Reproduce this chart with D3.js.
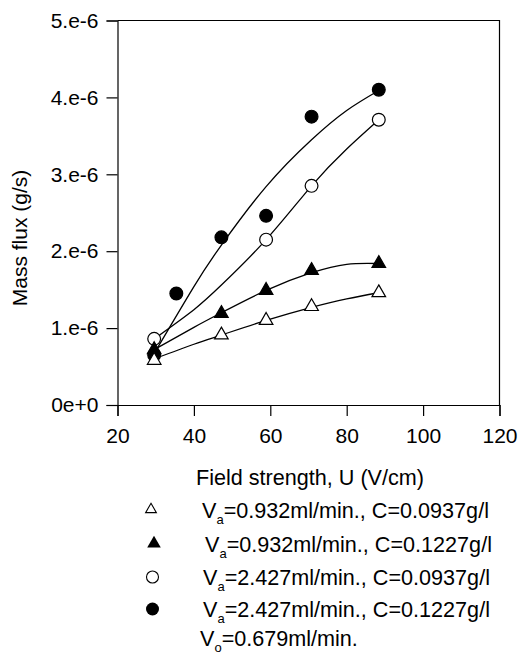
<!DOCTYPE html>
<html><head><meta charset="utf-8">
<script src="https://cdn.jsdelivr.net/npm/d3@7"></script>
<style>
html,body{margin:0;padding:0;background:#fff;}
svg{display:block;font-family:"Liberation Sans",Arial,sans-serif;}
</style></head>
<body>
<svg id="c" width="520" height="656"></svg>
<script>
// ---- data ----
const xTickValues = [20, 40, 60, 80, 100, 120];
const yTickValues = [0, 1e-6, 2e-6, 3e-6, 4e-6, 5e-6];
const yTickLabels = ["0e+0", "1.e-6", "2.e-6", "3.e-6", "4.e-6", "5.e-6"];

// measured points (x in V/cm, y in g/s)
const openTriX = [29.6, 47.2, 58.9, 70.8, 88.4];
const openTriY = [0.58e-6, 0.91e-6, 1.10e-6, 1.28e-6, 1.46e-6];
const fillTriX = [29.6, 47.2, 58.9, 70.8, 88.4];
const fillTriY = [0.72e-6, 1.19e-6, 1.49e-6, 1.75e-6, 1.84e-6];
const openCirX = [29.6, 58.9, 70.8, 88.4];
const openCirY = [0.86e-6, 2.15e-6, 2.85e-6, 3.71e-6];
const fillCirX = [29.6, 35.4, 47.2, 58.9, 70.8, 88.4];
const fillCirY = [0.65e-6, 1.45e-6, 2.18e-6, 2.46e-6, 3.75e-6, 4.10e-6];

// fitted curves
const fitX = [29.6, 40, 47.2, 58.9, 70.8, 80, 88.4];
const fitOpenTri = [0.60e-6, 0.79e-6, 0.91e-6, 1.10e-6, 1.27e-6, 1.38e-6, 1.46e-6];
const fitFillTri = [0.72e-6, 1.01e-6, 1.20e-6, 1.49e-6, 1.72e-6, 1.83e-6, 1.84e-6];
const fitOpenCir = [0.86e-6, 1.24e-6, 1.56e-6, 2.15e-6, 2.85e-6, 3.33e-6, 3.71e-6];
const fitFillCir = [0.67e-6, 1.54e-6, 2.08e-6, 2.84e-6, 3.45e-6, 3.83e-6, 4.09e-6];

const xTitle = "Field strength, U (V/cm)";
const yTitle = "Mass flux (g/s)";
const legendItems = [
  {sym: "triOpen", main: "V", sub: "a", rest: "=0.932ml/min., C=0.0937g/l"},
  {sym: "triFill", main: "V", sub: "a", rest: "=0.932ml/min., C=0.1227g/l"},
  {sym: "cirOpen", main: "V", sub: "a", rest: "=2.427ml/min., C=0.0937g/l"},
  {sym: "cirFill", main: "V", sub: "a", rest: "=2.427ml/min., C=0.1227g/l"},
  {sym: null, main: "V", sub: "o", rest: "=0.679ml/min."}
];

// ---- layout ----
const svg = d3.select("#c");
const L = 117.5, R = 499.5, T = 20.5, B = 405;
const x = d3.scaleLinear().domain([20, 120]).range([L, R]);
const y = d3.scaleLinear().domain([0, 5e-6]).range([B, T]);
const FS = 21, FL = 21.6;

// box top & right
svg.append("path").attr("d", `M${L},${T}H${R}V${B}`).attr("fill", "none").attr("stroke", "#000").attr("stroke-width", 1.2);

const gx = svg.append("g").attr("transform", `translate(0,${B})`)
  .call(d3.axisBottom(x).tickValues(xTickValues).tickSize(11).tickPadding(12).tickFormat(d3.format("d")));
const gy = svg.append("g").attr("transform", `translate(${L},0)`)
  .call(d3.axisLeft(y).tickValues(yTickValues).tickSize(11).tickPadding(8).tickFormat((d, i) => yTickLabels[i]));
[gx, gy].forEach(g => {
  g.select(".domain").attr("stroke-width", 1.2);
  g.selectAll(".tick line").attr("stroke-width", 1.2);
  g.selectAll("text").attr("font-size", FS).attr("font-family", "Liberation Sans, Arial, sans-serif").attr("fill", "#000");
});

// axis titles
svg.append("text").attr("x", 196).attr("y", 485).attr("font-size", FL).text(xTitle);
svg.append("text").attr("transform", "translate(27,238) rotate(-90)").attr("text-anchor", "middle")
  .attr("font-size", FS).text(yTitle);

// curves
const line = d3.line().x(d => x(d[0])).y(d => y(d[1])).curve(d3.curveNatural);
[fitOpenTri, fitFillTri, fitOpenCir, fitFillCir].forEach(arr => {
  svg.append("path").datum(fitX.map((v, i) => [v, arr[i]]))
    .attr("d", line).attr("fill", "none").attr("stroke", "#000").attr("stroke-width", 1.3);
});

// markers
const triPath = d3.symbol().type(d3.symbolTriangle).size(80)();
function drawTri(xs, ys, fill) {
  svg.append("g").selectAll("path").data(xs.map((v, i) => [v, ys[i]])).join("path")
    .attr("d", triPath).attr("transform", d => `translate(${x(d[0])},${y(d[1])})`)
    .attr("fill", fill).attr("stroke", "#000").attr("stroke-width", 1.2);
}
function drawCir(xs, ys, fill) {
  svg.append("g").selectAll("circle").data(xs.map((v, i) => [v, ys[i]])).join("circle")
    .attr("cx", d => x(d[0])).attr("cy", d => y(d[1])).attr("r", 6.4)
    .attr("fill", fill).attr("stroke", "#000").attr("stroke-width", 1.2);
}
drawCir(fillCirX, fillCirY, "#000");
drawCir(openCirX, openCirY, "#fff");
drawTri(fillTriX, fillTriY, "#000");
drawTri(openTriX, openTriY, "#fff");

// legend
const rowY = [517.5, 551.5, 585, 617, 646];
const textX = [202, 205, 203, 203, 200];
legendItems.forEach((it, i) => {
  const cy = rowY[i] - 8;
  if (it.sym === "triOpen") {
    svg.append("path").attr("d", d3.symbol().type(d3.symbolTriangle).size(50)())
      .attr("transform", `translate(151,${cy})`).attr("fill", "#fff").attr("stroke", "#000").attr("stroke-width", 1.1);
  } else if (it.sym === "triFill") {
    svg.append("path").attr("d", d3.symbol().type(d3.symbolTriangle).size(80)())
      .attr("transform", `translate(154,${cy})`).attr("fill", "#000");
  } else if (it.sym === "cirOpen") {
    svg.append("circle").attr("cx", 152.5).attr("cy", cy).attr("r", 6).attr("fill", "#fff").attr("stroke", "#000").attr("stroke-width", 1.1);
  } else if (it.sym === "cirFill") {
    svg.append("circle").attr("cx", 152.5).attr("cy", cy).attr("r", 6.5).attr("fill", "#000");
  }
  const t = svg.append("text").attr("x", textX[i]).attr("y", rowY[i]).attr("font-size", FL);
  t.append("tspan").text(it.main);
  t.append("tspan").attr("font-size", 13).attr("dy", 6).text(it.sub);
  t.append("tspan").attr("dy", -6).text(it.rest);
});
</script>
</body></html>
